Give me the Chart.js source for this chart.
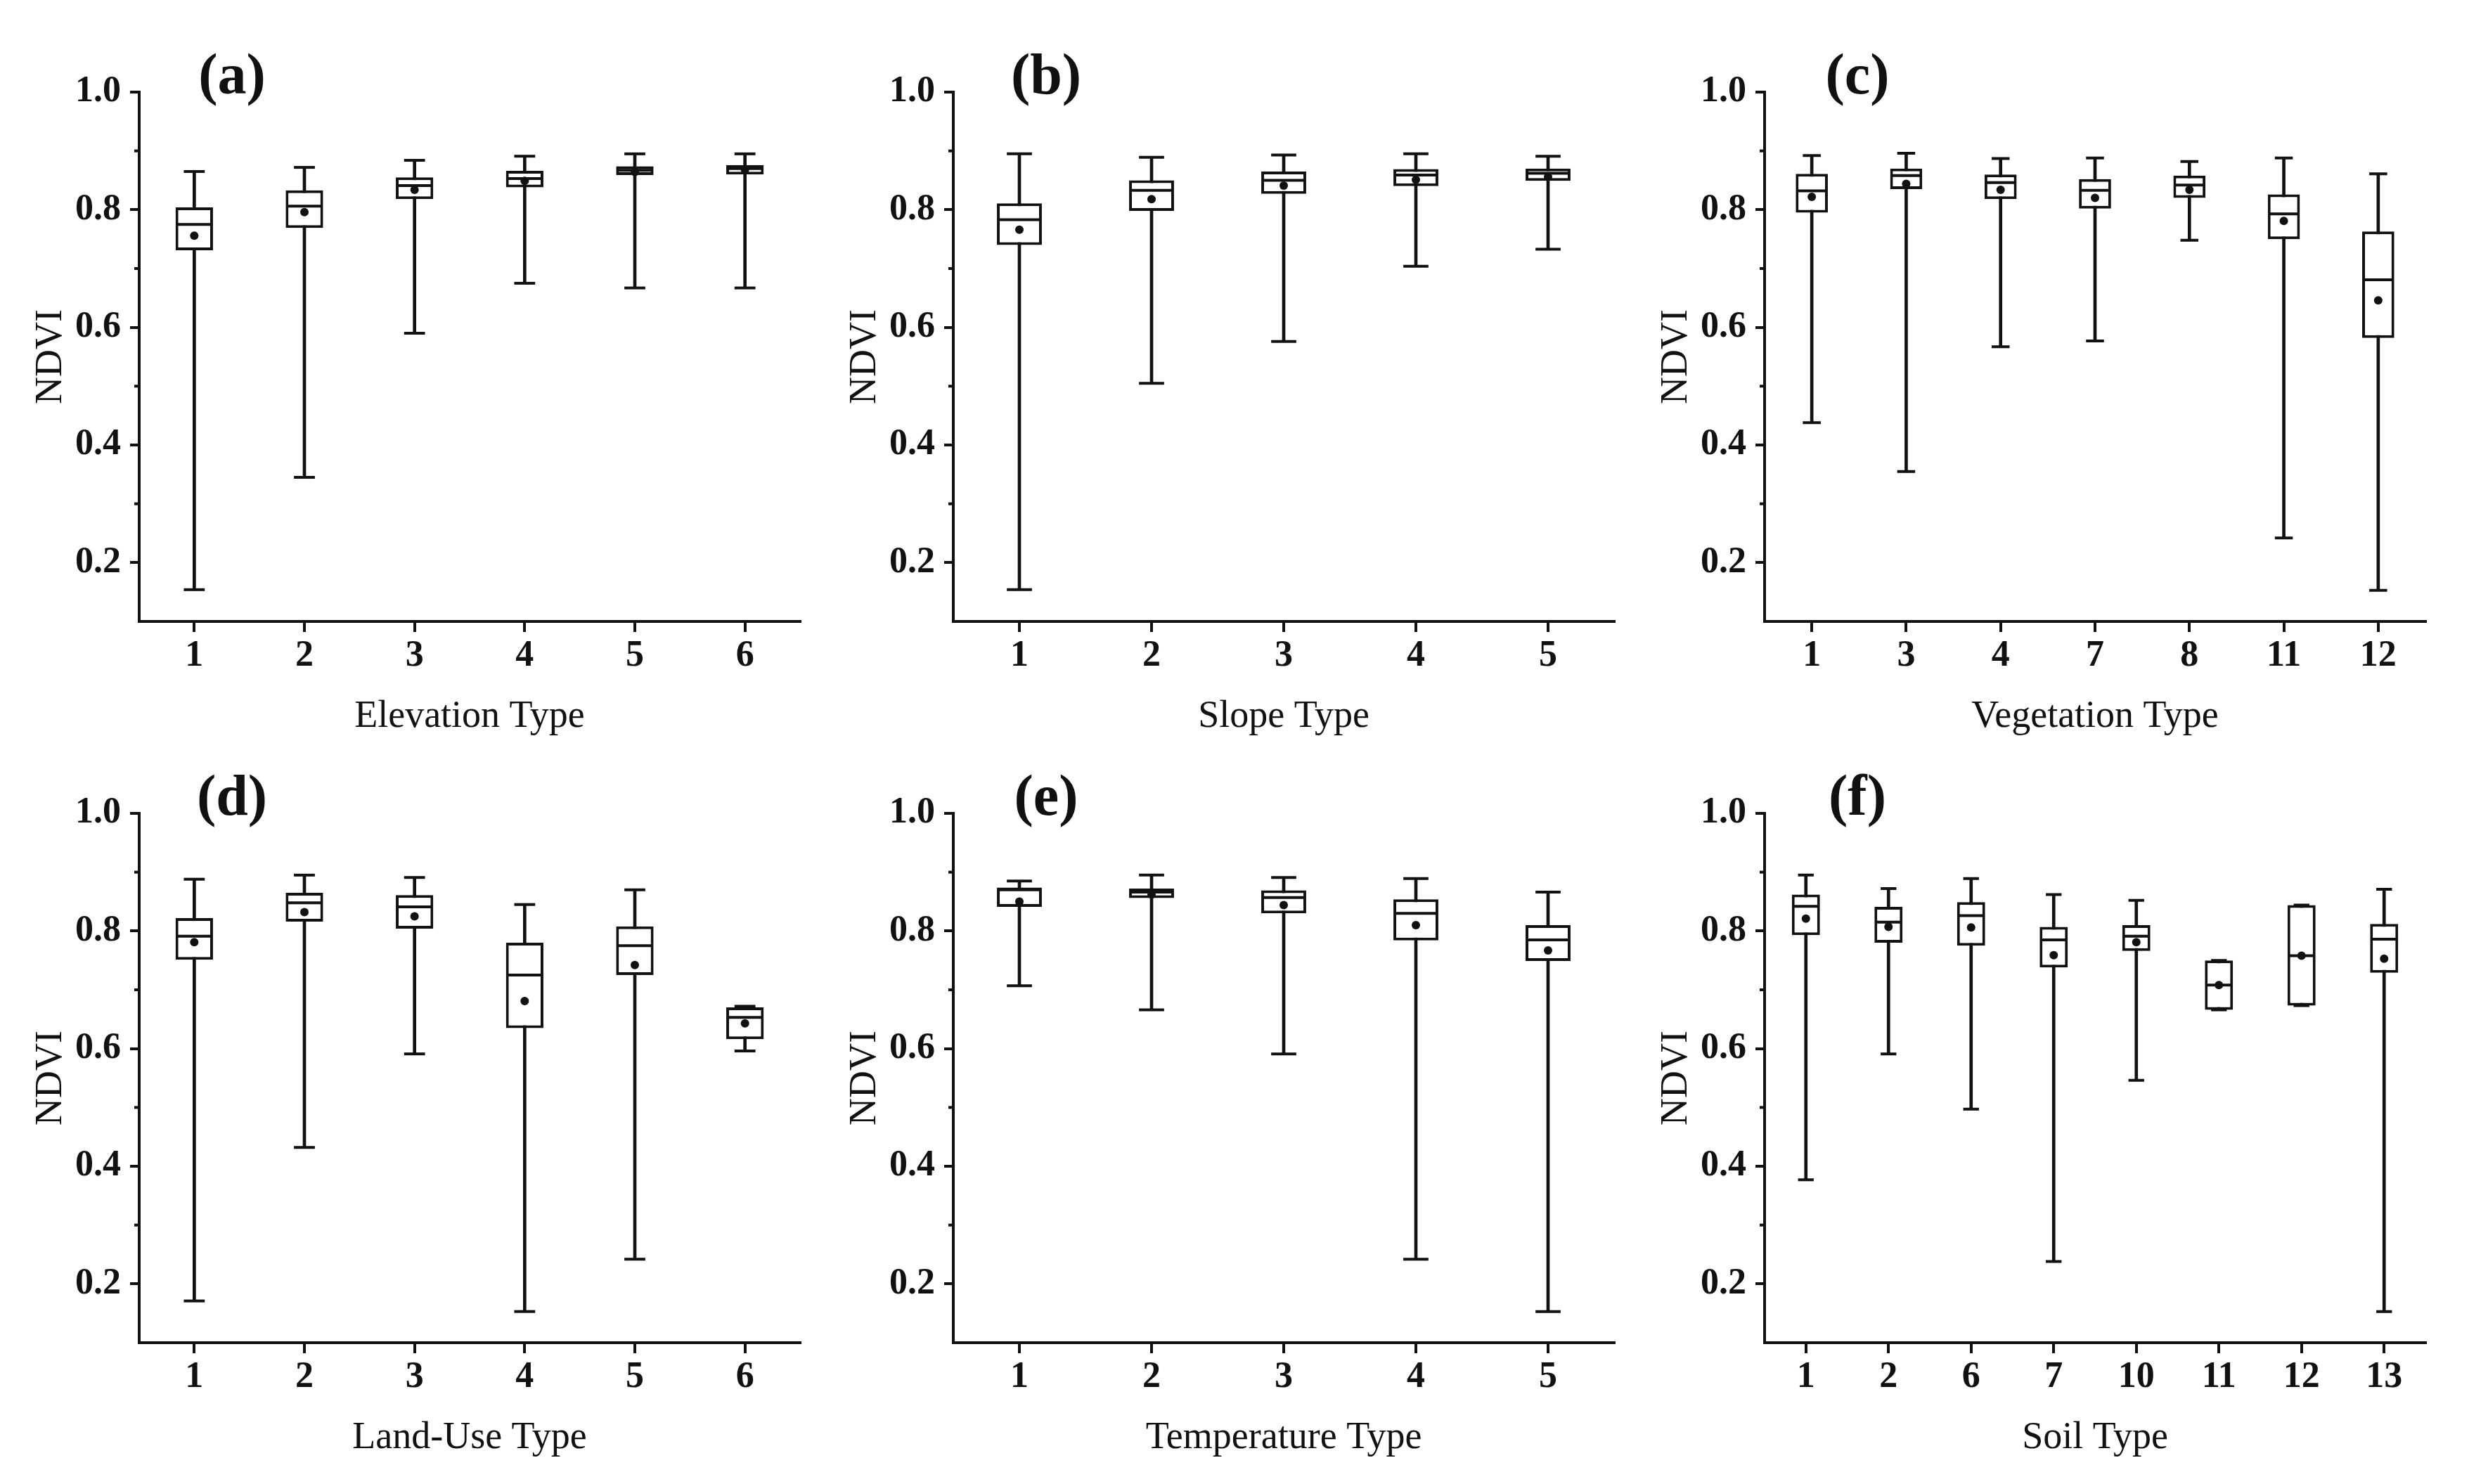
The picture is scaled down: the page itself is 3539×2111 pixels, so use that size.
<!DOCTYPE html>
<html>
<head>
<meta charset="utf-8">
<script src="https://cdn.jsdelivr.net/npm/chart.js@4.4.1/dist/chart.umd.min.js"></script>
<style>
  html, body { margin: 0; padding: 0; background: #fff; overflow: hidden; }
  body { width: 3539px; height: 2111px; position: relative; }
  canvas { position: absolute; }
</style>
</head>
<body>
<canvas id="pa" width="1150" height="1080" style="left:0px;top:0px"></canvas>
<canvas id="pb" width="1150" height="1080" style="left:1158px;top:0px"></canvas>
<canvas id="pc" width="1150" height="1080" style="left:2312px;top:0px"></canvas>
<canvas id="pd" width="1150" height="1080" style="left:0px;top:1026px"></canvas>
<canvas id="pe" width="1150" height="1080" style="left:1158px;top:1026px"></canvas>
<canvas id="pf" width="1150" height="1080" style="left:2312px;top:1026px"></canvas>
<script>
// y axis ticks (shared by all panels)
const yMajor = [0.2, 0.4, 0.6, 0.8, 1.0];
const yMinor = [0.3, 0.5, 0.7, 0.9];

// (a) Elevation Type
const elevCats = ['1', '2', '3', '4', '5', '6'];
const elevMin  = [0.154, 0.345, 0.590, 0.675, 0.667, 0.667];
const elevQ1   = [0.731, 0.769, 0.818, 0.838, 0.859, 0.860];
const elevMed  = [0.775, 0.806, 0.841, 0.853, 0.867, 0.870];
const elevQ3   = [0.804, 0.833, 0.855, 0.866, 0.874, 0.876];
const elevMax  = [0.865, 0.872, 0.884, 0.891, 0.895, 0.895];
const elevMean = [0.756, 0.796, 0.834, 0.849, 0.864, 0.868];

// (b) Slope Type
const slopeCats = ['1', '2', '3', '4', '5'];
const slopeMin  = [0.154, 0.505, 0.576, 0.704, 0.733];
const slopeQ1   = [0.740, 0.798, 0.827, 0.840, 0.849];
const slopeMed  = [0.783, 0.833, 0.850, 0.859, 0.862];
const slopeQ3   = [0.811, 0.850, 0.865, 0.869, 0.870];
const slopeMax  = [0.895, 0.889, 0.893, 0.895, 0.891];
const slopeMean = [0.766, 0.818, 0.841, 0.851, 0.856];

// (c) Vegetation Type
const vegCats = ['1', '3', '4', '7', '8', '11', '12'];
const vegMin  = [0.438, 0.355, 0.567, 0.577, 0.748, 0.242, 0.153];
const vegQ1   = [0.795, 0.835, 0.818, 0.802, 0.820, 0.750, 0.582];
const vegMed  = [0.832, 0.858, 0.846, 0.833, 0.842, 0.793, 0.681];
const vegQ3   = [0.861, 0.870, 0.860, 0.852, 0.858, 0.826, 0.763];
const vegMax  = [0.892, 0.896, 0.887, 0.888, 0.882, 0.888, 0.861];
const vegMean = [0.822, 0.844, 0.834, 0.820, 0.834, 0.781, 0.646];

// (d) Land-Use Type
const landCats = ['1', '2', '3', '4', '5', '6'];
const landMin  = [0.171, 0.432, 0.591, 0.153, 0.242, 0.596];
const landQ1   = [0.751, 0.816, 0.804, 0.635, 0.725, 0.616];
const landMed  = [0.791, 0.848, 0.841, 0.725, 0.775, 0.653];
const landQ3   = [0.822, 0.865, 0.861, 0.780, 0.808, 0.670];
const landMax  = [0.888, 0.895, 0.891, 0.845, 0.870, 0.672];
const landMean = [0.781, 0.832, 0.825, 0.681, 0.742, 0.643];

// (e) Temperature Type
const tempCats = ['1', '2', '3', '4', '5'];
const tempMin  = [0.707, 0.666, 0.591, 0.242, 0.153];
const tempQ1   = [0.841, 0.856, 0.830, 0.784, 0.749];
const tempMed  = [0.870, 0.866, 0.857, 0.830, 0.785];
const tempQ3   = [0.874, 0.872, 0.869, 0.854, 0.810];
const tempMax  = [0.885, 0.895, 0.891, 0.889, 0.866];
const tempMean = [0.850, 0.862, 0.844, 0.810, 0.767];

// (f) Soil Type
const soilCats = ['1', '2', '6', '7', '10', '11', '12', '13'];
const soilMin  = [0.377, 0.591, 0.497, 0.238, 0.546, 0.666, 0.673, 0.153];
const soilQ1   = [0.793, 0.780, 0.775, 0.738, 0.766, 0.666, 0.673, 0.729];
const soilMed  = [0.842, 0.815, 0.826, 0.785, 0.791, 0.708, 0.758, 0.786];
const soilQ3   = [0.862, 0.841, 0.849, 0.807, 0.810, 0.750, 0.844, 0.812];
const soilMax  = [0.895, 0.872, 0.889, 0.862, 0.852, 0.750, 0.844, 0.871];
const soilMean = [0.821, 0.807, 0.806, 0.759, 0.781, 0.708, 0.758, 0.753];

const SERIF = "'Liberation Serif', 'Times New Roman', serif";
const INK = '#111';

// width of one category slot, used for cap / median lengths
function slot(ctx) {
  const area = ctx.chart.chartArea;
  return area ? area.width / ctx.chart.data.labels.length : 0;
}

// short minor ticks on the y axis + the (a)..(f) panel tag
const extras = {
  id: 'extras',
  afterDraw(chart, args, opts) {
    const { ctx, chartArea } = chart;
    const y = chart.scales.y;
    ctx.save();
    ctx.strokeStyle = INK;
    ctx.lineWidth = 4;
    yMinor.forEach(v => {
      const py = y.getPixelForValue(v);
      ctx.beginPath();
      ctx.moveTo(chartArea.left - 7, py);
      ctx.lineTo(chartArea.left, py);
      ctx.stroke();
    });
    ctx.fillStyle = INK;
    ctx.font = 'bold 82px ' + SERIF;
    ctx.textAlign = 'center';
    ctx.textBaseline = 'alphabetic';
    ctx.fillText(opts.tag, chartArea.left + 132, chartArea.top + 2);
    ctx.restore();
  }
};

function boxPanel(id, tag, title, cats, lo, q1, med, q3, hi, mean) {
  new Chart(document.getElementById(id), {
    data: {
      labels: cats,
      datasets: [
        { // whisker
          type: 'bar', order: 4, grouped: false,
          data: lo.map((v, i) => [v, hi[i]]),
          backgroundColor: INK, barThickness: 4
        },
        { // box
          type: 'bar', order: 3, grouped: false,
          data: q1.map((v, i) => [v, q3[i]]),
          backgroundColor: '#fff', borderColor: INK, borderWidth: 4,
          borderSkipped: false, barPercentage: 0.34, categoryPercentage: 1
        },
        { // whisker caps
          type: 'line', order: 2, showLine: false,
          data: hi,
          pointStyle: 'line', pointBorderColor: INK, pointBorderWidth: 4,
          pointRadius: ctx => slot(ctx) * 0.095
        },
        {
          type: 'line', order: 2, showLine: false,
          data: lo,
          pointStyle: 'line', pointBorderColor: INK, pointBorderWidth: 4,
          pointRadius: ctx => slot(ctx) * 0.095
        },
        { // median
          type: 'line', order: 1, showLine: false,
          data: med,
          pointStyle: 'line', pointBorderColor: INK, pointBorderWidth: 4,
          pointRadius: ctx => Math.max(slot(ctx) * 0.17 - 3, 0)
        },
        { // mean
          type: 'line', order: 0, showLine: false,
          data: mean,
          pointStyle: 'circle', pointRadius: 6,
          pointBackgroundColor: INK, pointBorderWidth: 0
        }
      ]
    },
    options: {
      responsive: false,
      animation: false,
      devicePixelRatio: 1,
      events: [],
      layout: { padding: { top: 131, left: 0, right: 12, bottom: 0 } },
      plugins: { legend: { display: false }, tooltip: { enabled: false }, extras: { tag: tag } },
      scales: {
        x: {
          type: 'category', offset: true,
          afterFit: s => { s.height = 196; },
          border: { color: INK, width: 4 },
          grid: { offset: false, drawOnChartArea: false, color: INK, lineWidth: 4, tickLength: 15 },
          ticks: { color: INK, padding: 3, font: { family: SERIF, size: 52, weight: 'bold' } },
          title: { display: true, text: title, color: INK, padding: { top: 0, bottom: 28 },
                   font: { family: SERIF, size: 54 } }
        },
        y: {
          min: 0.1, max: 1.0,
          afterFit: s => { s.width = 198; },
          afterBuildTicks: s => { s.ticks = yMajor.map(v => ({ value: v })); },
          border: { color: INK, width: 4 },
          grid: { drawOnChartArea: false, color: INK, lineWidth: 4, tickLength: 13 },
          ticks: { color: INK, padding: 13, font: { family: SERIF, size: 52, weight: 'bold' },
                   callback: v => Number(v).toFixed(1) },
          title: { display: true, text: 'NDVI', color: INK, padding: { top: 40, bottom: 0 },
                   font: { family: SERIF, size: 54 } }
        }
      }
    },
    plugins: [extras]
  });
}

boxPanel('pa', '(a)', 'Elevation Type', elevCats, elevMin, elevQ1, elevMed, elevQ3, elevMax, elevMean);
boxPanel('pb', '(b)', 'Slope Type', slopeCats, slopeMin, slopeQ1, slopeMed, slopeQ3, slopeMax, slopeMean);
boxPanel('pc', '(c)', 'Vegetation Type', vegCats, vegMin, vegQ1, vegMed, vegQ3, vegMax, vegMean);
boxPanel('pd', '(d)', 'Land-Use Type', landCats, landMin, landQ1, landMed, landQ3, landMax, landMean);
boxPanel('pe', '(e)', 'Temperature Type', tempCats, tempMin, tempQ1, tempMed, tempQ3, tempMax, tempMean);
boxPanel('pf', '(f)', 'Soil Type', soilCats, soilMin, soilQ1, soilMed, soilQ3, soilMax, soilMean);
</script>
</body>
</html>
